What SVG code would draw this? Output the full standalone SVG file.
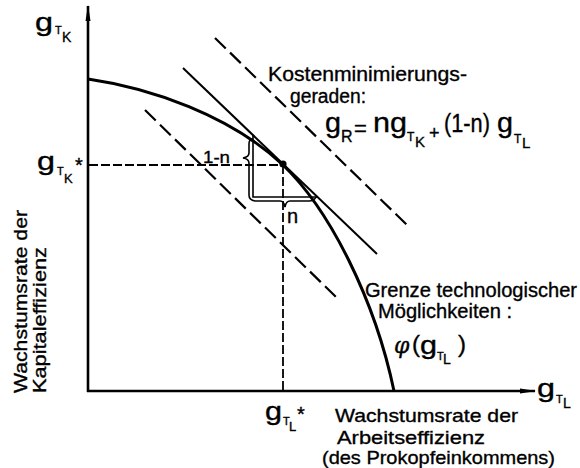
<svg xmlns="http://www.w3.org/2000/svg" width="580" height="468" viewBox="0 0 580 468">
<style>
text{font-family:"Liberation Sans","DejaVu Sans",Arial,sans-serif;fill:#000;stroke:#000;stroke-width:0.35}
.ax{stroke:#000;stroke-width:2.6;fill:none}
.cur{stroke:#000;stroke-width:3;fill:none}
.sol{stroke:#000;stroke-width:2;fill:none}
.dash{stroke:#000;stroke-width:2.2;fill:none;stroke-dasharray:15 6}
.fine{stroke:#000;stroke-width:1.8;fill:none;stroke-dasharray:9 3}
.thin{stroke:#000;stroke-width:1.6;fill:none}
.lab{font-size:20px}
.bot{font-size:19px}
.g{font-size:25px}
</style>
<defs>
<marker id="arr" viewBox="0 0 16 6" refX="15" refY="3" markerWidth="16" markerHeight="6" markerUnits="userSpaceOnUse" orient="auto">
<path d="M0,0.5 L16,3 L0,5.5 Z" fill="#000"/>
</marker>
</defs>
<rect width="580" height="468" fill="#fff"/>
<g id="axes">
<path class="ax" d="M88,392 L88,6" marker-end="url(#arr)"/>
<path class="ax" d="M87,391 L535,391" marker-end="url(#arr)"/>
</g>
<g id="frontier">
<path class="cur" d="M88,79 C150,88 230,115 283,165 C330,210 375,300 394,391"/>
</g>
<g id="connectors">
<path class="dash" d="M215,38 L407,225"/>
<path class="sol" d="M183,68 L377,254"/>
<path class="dash" d="M145,110 L337,298"/>
<path class="fine" d="M89,165 L283,165"/>
<path class="fine" d="M283,165 L283,390"/>
<path class="thin" d="M253,135 L253,197 L318,197"/>
<path class="thin" d="M253,139 Q249,139 249,144 L249,153 Q249,157 243,158 Q249,159 249,163 L249,195 Q249,200 255,201 L280,201 Q284,201 285,207 Q286,201 290,201 L309,201 Q314,201 316,197"/>
<circle cx="283" cy="164" r="3.6" fill="#000"/>
</g>
<g id="axis-labels">
<text class="g" x="35" y="31" textLength="18" lengthAdjust="spacingAndGlyphs">g</text>
<text x="55" y="34" font-size="11">T</text>
<text x="62" y="42" font-size="14">K</text>
<text class="g" x="37" y="170" textLength="18" lengthAdjust="spacingAndGlyphs">g</text>
<text x="57" y="175" font-size="11">T</text>
<text x="64" y="183" font-size="13">K</text>
<text x="75" y="172" font-size="20">*</text>
<text class="g" x="265" y="420" textLength="17" lengthAdjust="spacingAndGlyphs">g</text>
<text x="283" y="425" font-size="11">T</text>
<text x="289" y="431" font-size="13">L</text>
<text x="297" y="421" font-size="20">*</text>
<text class="g" x="537" y="397" textLength="18" lengthAdjust="spacingAndGlyphs">g</text>
<text x="556" y="403" font-size="11">T</text>
<text x="563" y="408" font-size="14">L</text>
</g>
<g id="cost-lines-label">
<text class="lab" x="268" y="81" textLength="199" lengthAdjust="spacingAndGlyphs">Kostenminimierungs-</text>
<text class="lab" x="290" y="103" textLength="76" lengthAdjust="spacingAndGlyphs">geraden:</text>
<text x="325" y="132" font-size="27" textLength="16" lengthAdjust="spacingAndGlyphs">g</text>
<text x="341" y="142" font-size="16">R</text>
<text x="354" y="136" font-size="22">=</text>
<text x="373" y="132" font-size="27" textLength="34" lengthAdjust="spacingAndGlyphs">ng</text>
<text x="407" y="141" font-size="12">T</text>
<text x="415" y="147" font-size="15">K</text>
<text x="429" y="139" font-size="18">+</text>
<text x="444" y="132" font-size="25" textLength="46" lengthAdjust="spacingAndGlyphs">(1-n)</text>
<text x="497" y="132" font-size="27" textLength="16" lengthAdjust="spacingAndGlyphs">g</text>
<text x="514" y="143" font-size="12">T</text>
<text x="522" y="148" font-size="15">L</text>
</g>
<g id="frontier-label">
<text class="lab" x="365" y="297" textLength="212" lengthAdjust="spacingAndGlyphs">Grenze technologischer</text>
<text class="lab" x="378" y="318" textLength="134" lengthAdjust="spacingAndGlyphs">Möglichkeiten :</text>
<text x="394" y="353" font-size="22" font-style="italic" style="font-family:'DejaVu Serif','Liberation Serif',serif">φ</text>
<text x="412" y="352" font-size="24">(</text>
<text class="g" x="420" y="354" textLength="17" lengthAdjust="spacingAndGlyphs">g</text>
<text x="437" y="360" font-size="11">T</text>
<text x="443" y="364" font-size="14">L</text>
<text x="458" y="352" font-size="24">)</text>
</g>
<g id="brace-labels">
<text x="203" y="163" font-size="17" textLength="27" lengthAdjust="spacingAndGlyphs">1-n</text>
<text x="287" y="223" font-size="20">n</text>
</g>
<g id="x-title">
<text class="bot" x="335" y="422" textLength="183" lengthAdjust="spacingAndGlyphs">Wachstumsrate der</text>
<text class="bot" x="337" y="444" textLength="148" lengthAdjust="spacingAndGlyphs">Arbeitseffizienz</text>
<text class="bot" x="322" y="464" textLength="233" lengthAdjust="spacingAndGlyphs">(des Prokopfeinkommens)</text>
</g>
<g id="y-title">
<text class="bot" transform="translate(27,393) rotate(-90)" textLength="183" lengthAdjust="spacingAndGlyphs">Wachstumsrate der</text>
<text class="bot" transform="translate(46,393) rotate(-90)" textLength="146" lengthAdjust="spacingAndGlyphs">Kapitaleffizienz</text>
</g>
</svg>
